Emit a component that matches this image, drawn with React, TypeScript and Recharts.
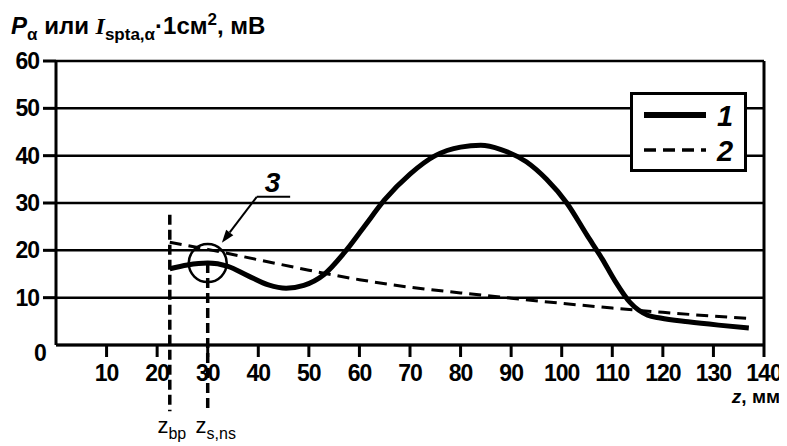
import {
  LineChart,
  Line,
  XAxis,
  YAxis,
  CartesianGrid,
  ReferenceLine,
  ReferenceDot,
} from "recharts";

// curve 1: P_alpha
const curve1Z = [22.5, 26, 30, 34, 38, 42, 45.5, 49, 53, 57, 61, 65, 70, 75, 80, 84, 88, 93, 97, 101, 105, 108, 110.5, 113.5, 117, 119.5, 125, 131, 137];
const curve1P = [16.1, 16.9, 17.3, 16.6, 14.6, 12.7, 12.0, 12.6, 14.9, 19.5, 25.1, 30.7, 36.1, 40.0, 41.8, 42.2, 41.3, 38.7, 35.0, 30.0, 23.2, 18.2, 13.6, 9.0, 6.3, 5.7, 4.9, 4.2, 3.6];

// curve 2: I_spta,alpha * 1 cm2
const curve2Z = [22.5, 30, 40, 50, 60, 70, 80, 90, 100, 110, 120, 130, 137];
const curve2P = [21.7, 20.2, 18.0, 15.8, 13.8, 12.2, 11.0, 9.9, 8.8, 7.8, 6.9, 6.1, 5.6];

const zTicks = [10, 20, 30, 40, 50, 60, 70, 80, 90, 100, 110, 120, 130, 140];
const pTicks = [10, 20, 30, 40, 50, 60];

// marked points
const zBp = 22.5;
const zBpTop = 27.5;
const zSns = 30;
const zSnsP = 17.3;
const lineBottom = -14;
const arrowFrom = { x: 39.7, y: 31.3 };
const arrowTo = { x: 32.8, y: 21.6 };
const leaderEnd = { x: 46.3, y: 31.3 };
const markLabel = { x: 42.8, y: 34.4 };

const data1 = curve1Z.map((z, i) => ({ z, p: curve1P[i] }));
const data2 = curve2Z.map((z, i) => ({ z, p: curve2P[i] }));

const FONT = '"Liberation Sans", Arial, sans-serif';
const tickStyle = { fontSize: 23, fontWeight: "bold", fill: "#000", fontFamily: FONT, letterSpacing: -1 };

function Arrow(props: any) {
  const { x1, y1, x2, y2 } = props;
  const ang = Math.atan2(y2 - y1, x2 - x1);
  const len = 13;
  const w = 4.5;
  const bx = x2 - len * Math.cos(ang);
  const by = y2 - len * Math.sin(ang);
  const px = -Math.sin(ang) * w;
  const py = Math.cos(ang) * w;
  return (
    <g>
      <line x1={x1} y1={y1} x2={bx} y2={by} stroke="#000" strokeWidth={2} />
      <polygon
        points={`${x2},${y2} ${bx + px},${by + py} ${bx - px},${by - py}`}
        fill="#000"
      />
    </g>
  );
}

function subLabel(main: string, sub: string, shift: number) {
  return (props: any) => {
    const vb = props.viewBox;
    const x = vb.x + shift;
    const y = vb.y + vb.height + 22;
    return (
      <text x={x} y={y} fontFamily={FONT} fontSize={22} fill="#000" textAnchor="middle">
        <tspan>{main}</tspan>
        <tspan fontSize={16} dy={6}>{sub}</tspan>
      </text>
    );
  };
}

export default function App() {
  return (
    <div style={{ position: "relative", width: 787, height: 446, marginLeft: -8, marginTop: -8, fontFamily: FONT, background: "#fff" }}>
      <LineChart
        width={787}
        height={446}
        margin={{ top: 61, right: 23, left: 0, bottom: 41 }}
      >
        <CartesianGrid vertical={false} stroke="#000" strokeWidth={2.5} />
        <XAxis
          dataKey="z"
          type="number"
          domain={[0, 140]}
          ticks={zTicks}
          allowDataOverflow
          height={60}
          stroke="#000"
          strokeWidth={3}
          tickSize={12}
          tickMargin={8}
          tick={tickStyle}
        />
        <YAxis
          type="number"
          domain={[0, 60]}
          ticks={pTicks}
          width={56}
          stroke="#000"
          strokeWidth={3}
          tickSize={13}
          tickMargin={4}
          tick={tickStyle}
        />
        <ReferenceLine x={140} stroke="#000" strokeWidth={3} />
        <ReferenceLine
          segment={[{ x: zBp, y: zBpTop }, { x: zBp, y: lineBottom }]}
          ifOverflow="visible"
          stroke="#000"
          strokeWidth={3.5}
          strokeDasharray="10 5"
          label={{ content: subLabel("z", "bp", 2) }}
        />
        <ReferenceLine
          segment={[{ x: zSns, y: zSnsP }, { x: zSns, y: lineBottom }]}
          ifOverflow="visible"
          stroke="#000"
          strokeWidth={3.5}
          strokeDasharray="10 5"
          label={{ content: subLabel("z", "s,ns", 8) }}
        />
        <Line
          data={data2}
          dataKey="p"
          type="monotone"
          stroke="#000"
          strokeWidth={3}
          strokeDasharray="12 7"
          dot={false}
          isAnimationActive={false}
        />
        <Line
          data={data1}
          dataKey="p"
          type="monotone"
          stroke="#000"
          strokeWidth={5}
          dot={false}
          isAnimationActive={false}
        />
        <ReferenceDot x={zSns} y={zSnsP} r={19} fill="none" stroke="#000" strokeWidth={2.5} />
        <ReferenceLine
          segment={[arrowFrom, arrowTo]}
          ifOverflow="visible"
          shape={Arrow}
        />
        <ReferenceLine
          segment={[arrowFrom, leaderEnd]}
          ifOverflow="visible"
          stroke="#000"
          strokeWidth={2}
        />
        <ReferenceDot
          x={markLabel.x}
          y={markLabel.y}
          r={0}
          fill="none"
          stroke="none"
          label={{ value: "3", position: "center", fontSize: 28, fontStyle: "italic", fontWeight: "bold", fill: "#000", fontFamily: FONT }}
        />
      </LineChart>

      <div style={{ position: "absolute", left: 11, top: 5, fontSize: 24, fontWeight: "bold", whiteSpace: "nowrap", lineHeight: "30px" }}>
        <i>P</i>
        <sub style={{ fontSize: 17 }}>α</sub>
        {" или "}
        <i style={{ fontFamily: '"Liberation Serif", serif' }}>I</i>
        <sub style={{ fontSize: 17 }}>spta,α</sub>
        ·1см<sup style={{ fontSize: 17 }}>2</sup>, мВ
      </div>
      <div style={{ position: "absolute", left: 34, top: 340, fontSize: 23, fontWeight: "bold" }}>0</div>
      <div style={{ position: "absolute", right: 7, top: 386, fontSize: 19, fontWeight: "bold", whiteSpace: "nowrap" }}>
        <i>z</i>, мм
      </div>
      <div style={{ position: "absolute", left: 630, top: 92, width: 117, height: 80, boxSizing: "border-box", border: "3px solid #000", background: "#fff" }}>
        <svg width={111} height={74} style={{ display: "block" }}>
          <line x1={11} y1={20} x2={73} y2={20} stroke="#000" strokeWidth={6} />
          <text x={84} y={31} fontSize={29} fontStyle="italic" fontWeight="bold" fontFamily={FONT}>1</text>
          <line x1={11} y1={55} x2={73} y2={55} stroke="#000" strokeWidth={3.5} strokeDasharray="12 7" />
          <text x={84} y={66} fontSize={29} fontStyle="italic" fontWeight="bold" fontFamily={FONT}>2</text>
        </svg>
      </div>
    </div>
  );
}
